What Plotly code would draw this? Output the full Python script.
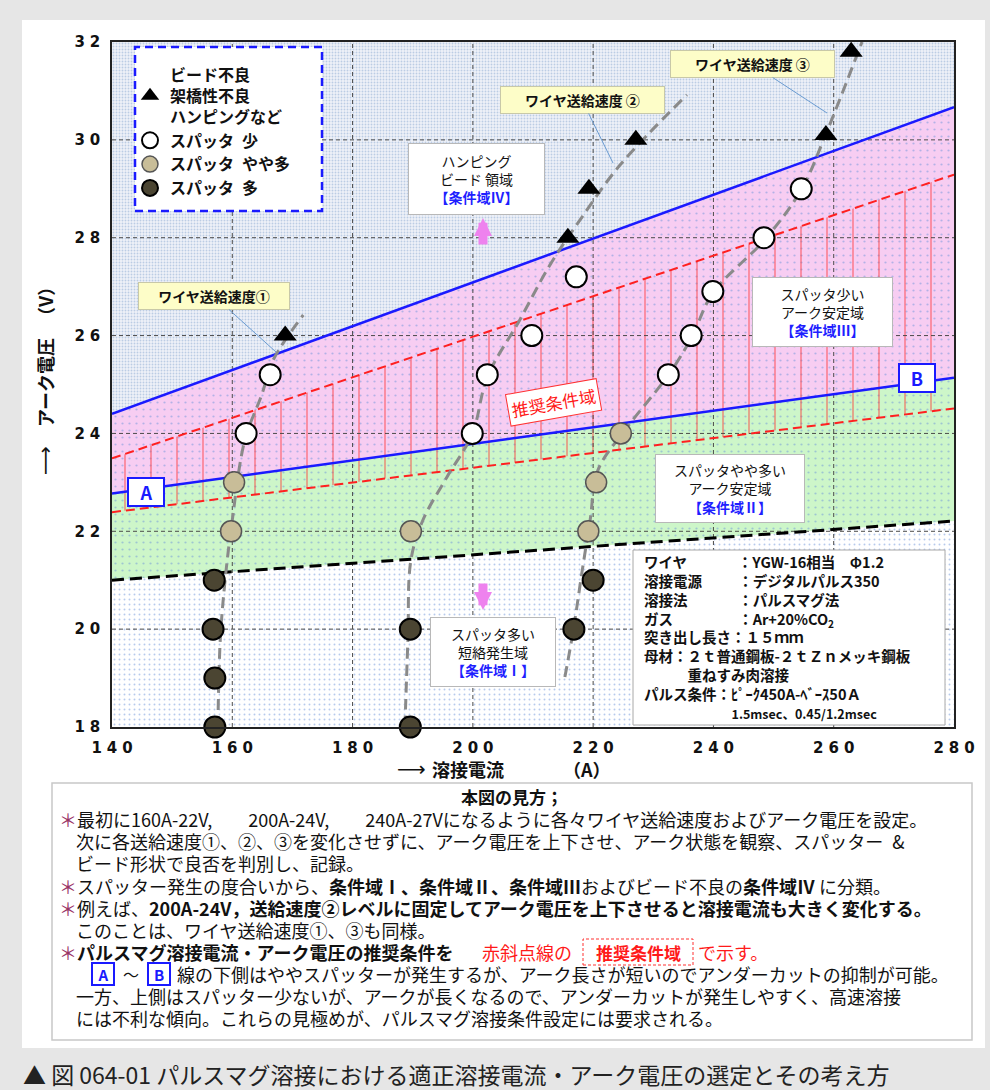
import plotly.graph_objects as go

JP = "Noto Sans CJK JP"
BLUE_TXT = "#1f1fff"

# ---------------- data ----------------
x_ticks = [140, 160, 180, 200, 220, 240, 260, 280]
y_ticks = [18, 20, 22, 24, 26, 28, 30, 32]

bound_x = [140, 280]
short_arc_y = [21.00, 22.21]      # black dashed boundary (条件域Ⅰ / Ⅱ)
line_ab_y = [22.77, 25.14]        # blue line A-B
upper_y = [24.40, 30.67]          # blue upper boundary (Ⅲ / Ⅳ)
rec_low_y = [22.39, 24.51]        # recommended band lower edge
rec_high_y = [23.49, 29.29]       # recommended band upper edge

# wire feed speed guide curves
feed1_x = [157.6, 158.0, 158.8, 160.0, 162.1, 164.9, 166.8, 171.8]
feed1_y = [18.0, 19.78, 21.0, 22.23, 23.87, 24.79, 25.5, 26.42]
feed2_x = [188.7, 189.2, 189.7, 191.7, 195.7, 199.9, 202.4, 207.8, 212.8, 217.8, 224.5, 235.6]
feed2_y = [18.0, 19.78, 21.41, 22.23, 23.11, 23.99, 25.15, 26.32, 27.44, 28.36, 29.49, 30.92]
feed3_x = [215.3, 216.7, 218.2, 219.5, 220.8, 225.3, 232.6, 236.4, 239.9, 248.6, 254.6, 258.7, 264.7]
feed3_y = [19.02, 19.98, 21.21, 22.23, 23.25, 24.07, 25.21, 25.97, 26.87, 27.97, 28.98, 30.12, 32.0]

# observation points
bead_x = [168.8, 215.8, 219.3, 227.1, 258.7, 262.9]
bead_y = [26.0, 28.0, 29.0, 30.0, 30.1, 31.8]
sp_low_x = [162.3, 166.3, 199.9, 202.4, 209.8, 217.2, 232.5, 236.3, 239.9, 248.4, 254.6]
sp_low_y = [24.0, 25.2, 24.0, 25.2, 26.0, 27.2, 25.2, 26.0, 26.9, 28.0, 29.0]
sp_mid_x = [159.8, 160.3, 189.7, 219.2, 220.5, 224.6]
sp_mid_y = [22.0, 23.0, 22.0, 22.0, 23.0, 24.0]
sp_high_x = [157.1, 157.1, 156.8, 157.0, 189.6, 189.6, 216.8, 220.0]
sp_high_y = [18.0, 19.0, 20.0, 21.0, 18.0, 20.0, 20.0, 21.0]

legend_names = ["<b>ビード不良<br>架橋性不良<br>ハンピングなど</b>",
                "<b>スパッタ\u2002少</b>", "<b>スパッタ\u2002やや多</b>", "<b>スパッタ\u2002多</b>"]

# ---------------- layout geometry ----------------
W, H = 990, 1090
L, R, T, B = 112, 954, 42, 727


def fx(p):
    return (p - L) / (R - L)


def fy(p):
    return (B - p) / (B - T)


fig = go.Figure()
NOHOVER = dict(showlegend=False, hoverinfo="skip")
TOP = dict(xaxis="x2", yaxis="y2")   # overlay subplot drawn above the coloured regions


def region(yvals, pattern):
    fig.add_trace(go.Scatter(x=bound_x, y=yvals, mode="lines", line=dict(width=0),
                             fill="tonexty", fillpattern=pattern, **NOHOVER))


# coloured regions (main subplot)
fig.add_trace(go.Scatter(x=bound_x, y=[y_ticks[0]] * 2, mode="lines",
                         line=dict(width=0), **NOHOVER))
region(short_arc_y, dict(shape=".", bgcolor="#ffffff", fgcolor="#6f96da", size=5, solidity=0.12))
region(line_ab_y, dict(shape=".", bgcolor="#cdf6c9", fgcolor="#6f96da", size=7, solidity=0.08))
region(upper_y, dict(shape=".", bgcolor="#f7cdf2", fgcolor="#6f96da", size=7, solidity=0.08))
region([y_ticks[-1]] * 2, dict(shape=".", bgcolor="#eef2f8", fgcolor="#8aa6cf", size=3, solidity=0.3))

# recommended band hatch (overlay subplot)
fig.add_trace(go.Scatter(x=bound_x, y=rec_low_y, mode="lines", line=dict(width=0),
                         **NOHOVER, **TOP))
fig.add_trace(go.Scatter(x=bound_x, y=rec_high_y, mode="lines", line=dict(width=0),
                         fill="tonexty", fillcolor="rgba(0,0,0,0)",
                         fillpattern=dict(shape="|", fgcolor="#ff2a2a",
                                          bgcolor="rgba(0,0,0,0)", size=26, solidity=0.06,
                                          fillmode="overlay"),
                         **NOHOVER, **TOP))

# grid lines (above fills)
gx, gy = [], []
for t in x_ticks[1:-1]:
    gx += [t, t, None]
    gy += [y_ticks[0], y_ticks[-1], None]
for t in y_ticks[1:-1]:
    gx += [x_ticks[0], x_ticks[-1], None]
    gy += [t, t, None]
fig.add_trace(go.Scatter(x=gx, y=gy, mode="lines",
                         line=dict(color="#4a4a4a", width=1, dash="4px,3px"), **NOHOVER, **TOP))

# recommended band edges
for ys in (rec_low_y, rec_high_y):
    fig.add_trace(go.Scatter(x=bound_x, y=ys, mode="lines",
                             line=dict(color="#ff2020", width=2, dash="9px,5px"),
                             **NOHOVER, **TOP))
# black dashed boundary
fig.add_trace(go.Scatter(x=bound_x, y=short_arc_y, mode="lines",
                         line=dict(color="black", width=3, dash="12px,6px"), **NOHOVER, **TOP))
# blue lines
for ys in (line_ab_y, upper_y):
    fig.add_trace(go.Scatter(x=bound_x, y=ys, mode="lines",
                             line=dict(color="#1a1aff", width=2.5), **NOHOVER, **TOP))
# guide curves
for cx, cy in ((feed1_x, feed1_y), (feed2_x, feed2_y), (feed3_x, feed3_y)):
    fig.add_trace(go.Scatter(x=cx, y=cy, mode="lines",
                             line=dict(color="#8a8a8a", width=3, dash="11px,6px", shape="spline"),
                             **NOHOVER, **TOP))

# markers
fig.add_trace(go.Scatter(x=bead_x, y=bead_y, mode="markers", name=legend_names[0],
                         marker=dict(symbol="triangle-up", size=20, color="black"),
                         cliponaxis=False, hoverinfo="skip", **TOP))
fig.add_trace(go.Scatter(x=sp_low_x, y=sp_low_y, mode="markers", name=legend_names[1],
                         marker=dict(symbol="circle", size=21, color="white",
                                     line=dict(color="black", width=2)),
                         cliponaxis=False, hoverinfo="skip", **TOP))
fig.add_trace(go.Scatter(x=sp_mid_x, y=sp_mid_y, mode="markers", name=legend_names[2],
                         marker=dict(symbol="circle", size=21, color="#c8bd98",
                                     line=dict(color="#555555", width=1.5)),
                         cliponaxis=False, hoverinfo="skip", **TOP))
fig.add_trace(go.Scatter(x=sp_high_x, y=sp_high_y, mode="markers", name=legend_names[3],
                         marker=dict(symbol="circle", size=21, color="#4b4532",
                                     line=dict(color="black", width=2)),
                         cliponaxis=False, hoverinfo="skip", **TOP))

# ---------------- annotations ----------------
ann = []


def text(t, px, py, size=15, color="#111", anchor="left", angle=0, family=JP, **kw):
    d = dict(text=t, xref="paper", yref="paper", x=fx(px), y=fy(py), showarrow=False,
             xanchor=anchor, yanchor="middle", textangle=angle, borderpad=0, align="left",
             font=dict(family=family, size=size, color=color))
    d.update(kw)
    ann.append(d)


def box(t, cx, cy, w, h, size=14, border="#b8b8b8", bw=1, bg="white", color="#111", **kw):
    d = dict(text=t, xref="paper", yref="paper", x=fx(cx), y=fy(cy), showarrow=False,
             xanchor="center", yanchor="middle", width=w - 2, height=h - 2, borderpad=0,
             bgcolor=bg, bordercolor=border, borderwidth=bw,
             font=dict(family=JP, size=size, color=color))
    d.update(kw)
    ann.append(d)


def blue(t):
    return f"<span style='color:{BLUE_TXT}'><b>{t}</b></span>"


box("ハンピング<br>ビード 領域<br>" + blue("【条件域Ⅳ】"), 476, 179, 137, 72)
box("スパッタ少い<br>アーク安定域<br>" + blue("【条件域Ⅲ】"), 822, 312, 141, 70)
box("スパッタやや多い<br>アーク安定域<br>" + blue("【条件域Ⅱ】"), 730, 488, 150, 69)
box("スパッタ多い<br>短絡発生域<br>" + blue("【条件域Ⅰ】"), 493, 652, 126, 70)
box("<b>A</b>", 146, 492, 36, 28, size=18, border="#1a1aff", bw=2, color="#1a1aff")
box("<b>B</b>", 917, 378, 36, 28, size=18, border="#1a1aff", bw=2, color="#1a1aff")

# callouts (wire feed speed)
for label, (tipx, tipy), (cx, cy), w in (
        ("ワイヤ送給速度①", (276, 352), (214, 296), 152),
        ("ワイヤ送給速度 ②", (613, 163), (582, 100), 165),
        ("ワイヤ送給速度 ③", (827, 113), (752, 64), 165)):
    ann.append(dict(text=f"<b>{label}</b>", xref="paper", yref="paper",
                    x=fx(tipx), y=fy(tipy), ax=cx - tipx, ay=cy - tipy,
                    showarrow=True, arrowhead=0, arrowwidth=1, arrowcolor="#6a9bd1",
                    width=w - 2, height=26, borderpad=0, bgcolor="#fdfdc8",
                    bordercolor="#c8c8a8", borderwidth=1,
                    font=dict(family=JP, size=14, color="#111")))

# recommended label
ann.append(dict(text="推奨条件域", xref="paper", yref="paper", x=fx(553), y=fy(402),
                showarrow=False, textangle=-10, bgcolor="white", bordercolor="#ff3030",
                borderwidth=1, borderpad=3, font=dict(family=JP, size=17, color="#ff1a1a")))

# pink block arrows
for tipy, ay in ((218, 28), (610, -28)):
    ann.append(dict(text="", xref="paper", yref="paper", x=fx(483), y=fy(tipy),
                    ax=0, ay=ay, showarrow=True, arrowhead=2, arrowsize=0.4,
                    arrowwidth=9, arrowcolor="#ee82ee"))

# info box (one multi-line text block)
SP, EN = "\u3000", "\u2002"
info_lines = [
    "ワイヤ" + SP * 3 + EN + "：YGW-16相当" + SP + "Φ1.2",
    "溶接電源" + SP * 2 + EN + "：デジタルパルス350",
    "溶接法" + SP * 3 + EN + "：パルスマグ法",
    "ガス" + SP * 4 + EN + "：Ar+20%CO<sub>2</sub>",
    "突き出し長さ：１５ｍｍ",
    "母材：２ｔ普通鋼板-２ｔＺｎメッキ鋼板",
    SP * 3 + "重ねすみ肉溶接",
    "パルス条件：ﾋﾟｰｸ450A-ﾍﾞｰｽ50Ａ",
    "<span style='font-size:12.5px'>" + SP * 7 + "1.5msec、0.45/1.2msec</span>",
]
text("<b>" + "<br>".join(info_lines) + "</b>", 643, 637, size=14.5)

# axis titles
text("⟶", 411, 769, size=20, anchor="center", family="DejaVu Sans")
text("<b>溶接電流</b>", 468, 769, size=18, anchor="center")
text("<b>（A）</b>", 587, 769, size=18, anchor="center")
text("⟶", 45, 461, size=20, anchor="center", angle=-90, family="DejaVu Sans")
text("<b>アーク電圧</b>", 45, 383, size=18, anchor="center", angle=-90)
text("<b>（V）</b>", 45, 302, size=18, anchor="center", angle=-90)

# explanation box text
AST = "<span style='color:#993366'>＊</span>"
FS = 18
text("<b>本図の見方；</b>", 512, 796, size=17, anchor="center")
text(AST + "最初に160A-22V," + SP * 2 + "200A-24V," + SP * 2 + "240A-27Vになるように各々ワイヤ送給速度およびアーク電圧を設定。",
     58, 819, size=FS)
text("次に各送給速度①、②、③を変化させずに、アーク電圧を上下させ、アーク状態を観察、スパッター" + EN + "&",
     75, 841, size=FS)
text("ビード形状で良否を判別し、記録。", 75, 863, size=FS)
text(AST + "スパッター発生の度合いから、<b>条件域Ⅰ、条件域Ⅱ、条件域Ⅲ</b>およびビード不良の<b>条件域Ⅳ</b> に分類。",
     58, 886, size=FS)
text(AST + "例えば、<b>200A-24V，送給速度②レベルに固定してアーク電圧を上下させると溶接電流も大きく変化する。</b>",
     58, 908, size=FS)
text("このことは、ワイヤ送給速度①、③も同様。", 75, 930, size=FS)
text(AST + "<b>パルスマグ溶接電流・アーク電圧の推奨条件を</b>", 58, 952, size=FS)
text("赤斜点線の", 481, 952, size=FS, color="#ff1a1a")
text("<b>推奨条件域</b>", 638, 952, size=FS - 1, color="#ff1a1a", anchor="center")
text("で示す。", 697, 952, size=FS, color="#ff1a1a")
box("<b>A</b>", 103, 974, 22, 22, size=15, border="#1a1aff", bw=2, color="#1a1aff")
text("～", 131, 974, size=FS - 2, anchor="center")
box("<b>B</b>", 159, 974, 22, 22, size=15, border="#1a1aff", bw=2, color="#1a1aff")
text("線の下側はややスパッターが発生するが、アーク長さが短いのでアンダーカットの抑制が可能。",
     176, 974, size=FS)
text("一方、上側はスパッター少ないが、アークが長くなるので、アンダーカットが発生しやすく、高速溶接",
     75, 996, size=FS)
text("には不利な傾向。これらの見極めが、パルスマグ溶接条件設定には要求される。", 75, 1018, size=FS)

# caption
text("▲ 図 064-01 パルスマグ溶接における適正溶接電流・アーク電圧の選定とその考え方",
     22, 1074, size=23, color="#222")

# ---------------- shapes ----------------
shapes = [
    dict(type="rect", xref="paper", yref="paper", x0=fx(22), x1=fx(985), y0=fy(1048), y1=fy(20),
         fillcolor="white", line=dict(width=0), layer="below"),
    dict(type="rect", xref="paper", yref="paper", x0=fx(52), x1=fx(972), y0=fy(1040), y1=fy(783),
         fillcolor="white", line=dict(color="#c8c8c8", width=1.5), layer="below"),
    dict(type="rect", xref="paper", yref="paper", x0=fx(633), x1=fx(945), y0=fy(725), y1=fy(550),
         fillcolor="white", line=dict(color="#a8a8a8", width=1), layer="above"),
    dict(type="rect", xref="paper", yref="paper", x0=fx(135), x1=fx(322), y0=fy(211), y1=fy(47),
         fillcolor="white", line=dict(color="#1a1aff", width=2.5, dash="8px,5px"), layer="above"),
    dict(type="rect", xref="paper", yref="paper", x0=fx(583), x1=fx(693), y0=fy(965), y1=fy(939),
         fillcolor="rgba(0,0,0,0)", line=dict(color="#ff3030", width=1, dash="3px,2px"),
         layer="above"),
]


def spaced(v):
    return "\u2004".join(str(v))


axis_common = dict(showgrid=False, zeroline=False, showline=True, mirror=True,
                   linecolor="#222", linewidth=1.5, ticks="",
                   tickfont=dict(family="DejaVu Sans", size=15, color="#111", weight=700))

fig.update_layout(
    width=W, height=H,
    margin=dict(l=L, r=W - R, t=T, b=H - B, pad=0),
    paper_bgcolor="#e6e6e6", plot_bgcolor="white",
    font=dict(family=JP),
    xaxis=dict(range=[x_ticks[0], x_ticks[-1]], tickvals=x_ticks,
               ticktext=[spaced(v) for v in x_ticks], ticklabelstandoff=6, **axis_common),
    yaxis=dict(range=[y_ticks[0], y_ticks[-1]], tickvals=y_ticks,
               ticktext=[spaced(v) for v in y_ticks], ticklabelstandoff=7, **axis_common),
    xaxis2=dict(overlaying="x", range=[x_ticks[0], x_ticks[-1]], visible=False),
    yaxis2=dict(overlaying="y", range=[y_ticks[0], y_ticks[-1]], visible=False),
    showlegend=True,
    legend=dict(x=fx(130), y=fy(58), xanchor="left", yanchor="top",
                bgcolor="rgba(0,0,0,0)", borderwidth=0, traceorder="normal",
                font=dict(family=JP, size=16, color="#111"), itemsizing="trace"),
    annotations=ann,
    shapes=shapes,
)

fig.write_html("out.html", config={"displayModeBar": False},
               post_script="document.body.style.margin='0';"
                           "document.body.style.background='#e6e6e6';")
